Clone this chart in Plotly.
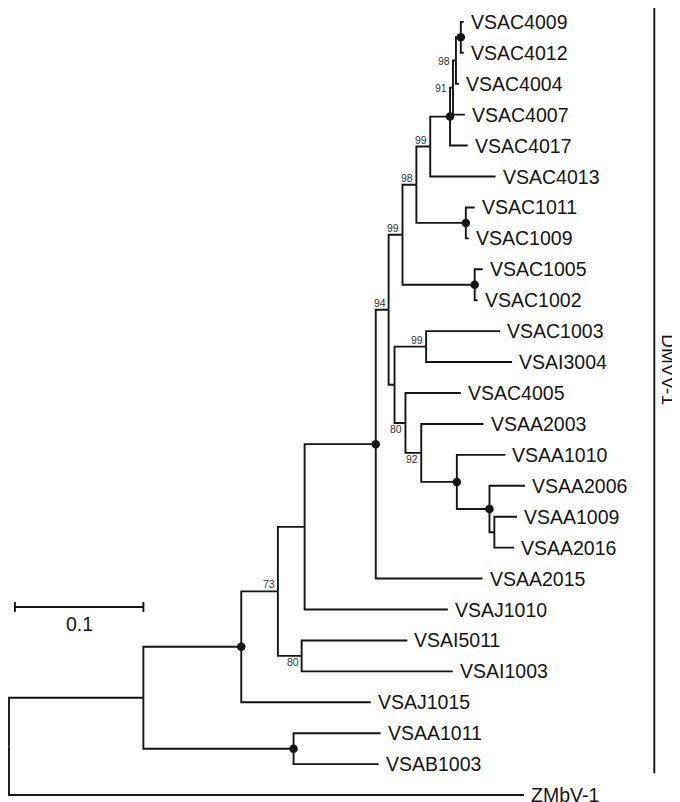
import plotly.graph_objects as go

# leaves, top to bottom, with parent node and branch length (subst./site)
leaf_names = ["VSAC4009", "VSAC4012", "VSAC4004", "VSAC4007", "VSAC4017", "VSAC4013",
              "VSAC1011", "VSAC1009", "VSAC1005", "VSAC1002", "VSAC1003", "VSAI3004",
              "VSAC4005", "VSAA2003", "VSAA1010", "VSAA2006", "VSAA1009", "VSAA2016",
              "VSAA2015", "VSAJ1010", "VSAI5011", "VSAI1003", "VSAJ1015", "VSAA1011",
              "VSAB1003", "ZMbV-1"]
leaf_parent = ["X", "X", "Y", "Z", "U", "S", "T", "T", "Q", "Q", "J", "J",
               "K", "L", "M", "N", "O", "O", "G", "E", "F", "F", "B", "C", "C", "root"]
leaf_branch = [0.0023, 0.0023, 0.0023, 0.0092, 0.0138, 0.0508, 0.0069, 0.0023, 0.0062, 0.0023,
               0.0577, 0.0669, 0.0431, 0.0485, 0.0377, 0.0277, 0.0177, 0.0154, 0.0831, 0.1115,
               0.0823, 0.1177, 0.1008, 0.0677, 0.0662, 0.4008]

# internal nodes
node_names = ["A", "B", "C", "D", "E", "F", "G", "H", "R", "P", "S", "U", "Z", "Y", "X",
              "T", "Q", "I", "J", "K", "L", "M", "N", "O"]
node_parent = ["root", "A", "A", "B", "D", "D", "E", "G", "H", "R", "P", "S", "U", "Z", "Y",
               "P", "R", "H", "I", "I", "K", "L", "M", "N"]
node_branch = [0.1046, 0.0762, 0.1169, 0.0285, 0.0208, 0.0185, 0.0554, 0.0100, 0.0108, 0.0108,
               0.0108, 0.0154, 0.0023, 0.0023, 0.0038, 0.0385, 0.0562, 0.0046, 0.0246, 0.0085,
               0.0123, 0.0277, 0.0254, 0.0038]
# bootstrap support (100 drawn as a dot)
node_support = [None, 100, 100, 73, None, 80, 100, 94, 99, 98, 99, 100, 91, 98, 100,
                100, 100, None, 99, 80, 92, 100, 100, None]
support_pos = ["", "", "", "above", "", "below", "", "above", "above", "above", "above", "",
               "left", "left", "", "", "", "", "above", "below", "below", "", "", ""]

scale_len = 0.1
clade_name = "DMVV-1"

FONT = "Liberation Sans, Arial, sans-serif"
INK = "#151515"
LW = 1.9

parent = dict(zip(leaf_names, leaf_parent))
parent.update(zip(node_names, node_parent))
blen = dict(zip(leaf_names, leaf_branch))
blen.update(zip(node_names, node_branch))
children = {}
for n, p in parent.items():
    children.setdefault(p, []).append(n)

depth = {"root": 0.0}
def get_depth(n):
    if n not in depth:
        depth[n] = get_depth(parent[n]) + blen[n]
    return depth[n]

ypos = {n: i for i, n in enumerate(leaf_names)}
def get_y(n):
    if n not in ypos:
        ys = [get_y(c) for c in children[n]]
        ypos[n] = (min(ys) + max(ys)) / 2
    return ypos[n]

for n in list(parent) + ["root"]:
    get_depth(n)
    get_y(n)

# elbow branches
lx, ly = [], []
for n, p in parent.items():
    lx += [depth[p], depth[p], depth[n], None]
    ly += [ypos[p], ypos[n], ypos[n], None]

fig = go.Figure()
fig.add_trace(go.Scatter(x=lx, y=ly, mode="lines", line=dict(color=INK, width=LW),
                         hoverinfo="skip", showlegend=False))

dots = [n for n, s in zip(node_names, node_support) if s == 100]
fig.add_trace(go.Scatter(x=[depth[n] for n in dots], y=[ypos[n] for n in dots], mode="markers",
                         marker=dict(color=INK, size=8.5), hoverinfo="skip", showlegend=False))

# tip labels
for n in leaf_names:
    fig.add_annotation(x=depth[n], y=ypos[n], text=n, showarrow=False, xanchor="left",
                       yanchor="middle", xshift=5, font=dict(family=FONT, size=19.5, color=INK))

# bootstrap labels
for n, s, pos in zip(node_names, node_support, support_pos):
    if s is None or s == 100:
        continue
    f = dict(family=FONT, size=10.5, color="#333")
    if pos == "left":
        fig.add_annotation(x=depth[parent[n]], y=ypos[n], text=str(s), showarrow=False,
                           xanchor="right", yanchor="middle", xshift=-1, font=f)
    elif pos == "above":
        fig.add_annotation(x=depth[n], y=ypos[n], text=str(s), showarrow=False,
                           xanchor="right", yanchor="bottom", xshift=-1, yshift=-1, font=f)
    else:
        fig.add_annotation(x=depth[n], y=ypos[n], text=str(s), showarrow=False,
                           xanchor="right", yanchor="top", xshift=-1, yshift=2, font=f)

# reference frame is 680x802; page body margin eats 8px, so draw slightly smaller
RW, RH = 680, 802
W, H = 672, 794

# scale bar
x0 = 6 / 1300
yb = 1 - 605 / RH
fig.add_shape(type="line", xref="x", yref="paper", x0=x0, x1=x0 + scale_len, y0=yb, y1=yb,
              line=dict(color=INK, width=LW))
for xe in (x0, x0 + scale_len):
    fig.add_shape(type="line", xref="x", yref="paper", x0=xe, x1=xe, y0=yb - 5 / RH, y1=yb + 5 / RH,
                  line=dict(color=INK, width=LW))
fig.add_annotation(x=x0 + scale_len / 2, xref="x", y=1 - 622 / RH, yref="paper", text="0.1",
                   showarrow=False, xanchor="center", yanchor="middle",
                   font=dict(family=FONT, size=19.5, color=INK))

# clade bar
fig.add_shape(type="line", xref="paper", yref="paper", x0=654 / RW, x1=654 / RW, y0=1, y1=1 - 773 / RH,
              line=dict(color=INK, width=LW))
fig.add_annotation(x=668 / RW, y=1 - 365 / RH, xref="paper", yref="paper", text=clade_name,
                   textangle=90, showarrow=False, xanchor="center", yanchor="middle",
                   font=dict(family=FONT, size=19, color=INK))

sp = (795 - 14) / 25
fig.update_layout(
    width=W, height=H, margin=dict(l=0, r=0, t=0, b=0),
    plot_bgcolor="white", paper_bgcolor="white",
    xaxis=dict(range=[-1 / 1300, (RW - 1) / 1300], visible=False, fixedrange=True),
    yaxis=dict(range=[(RH - 14) / sp, -14 / sp], visible=False, fixedrange=True),
)

fig.write_html("out.html")
